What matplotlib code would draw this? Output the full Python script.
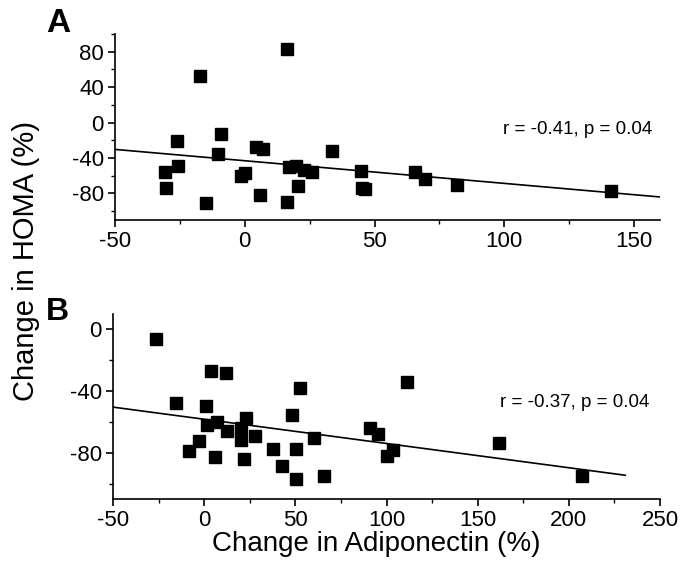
import numpy as np
import matplotlib.pyplot as plt
from matplotlib.ticker import MultipleLocator

plt.rcParams['font.family'] = ['Liberation Sans', 'DejaVu Sans']
plt.rcParams['axes.unicode_minus'] = False

# Panel A: change in adiponectin vs change in HOMA
adipo_a = [-30.9, -30.5, -26.0, -25.8, -17.4, -15.1, -9.2, -10.5, -1.5, 0.1,
           4.3, 7.2, 5.7, 16.4, 16.4, 17.0, 19.8, 20.6, 23.0, 26.0,
           33.5, 44.8, 45.1, 46.4, 65.5, 69.3, 81.7, 141.1]
homa_a = [-55.6, -73.8, -20.9, -48.5, 52.2, -90.5, -13.3, -36.0, -60.6, -56.8,
          -27.3, -30.3, -82.2, 83.5, -89.7, -50.4, -49.3, -72.0, -53.8, -56.0,
          -32.2, -55.2, -74.0, -74.6, -55.6, -63.2, -70.0, -77.6]
line_a_x = [-50, 160]
line_a_y = [-30.3, -84.0]

# Panel B
adipo_b = [-26.6, -15.7, 3.7, 11.9, 0.8, 1.3, 7.1, 12.6, -2.7, -8.2,
           5.9, 23.2, 20.4, 20.1, 21.9, 27.8, 37.5, 42.8, 48.3, 50.6,
           50.6, 52.8, 60.0, 65.8, 91.2, 95.1, 100.4, 103.3, 111.5, 161.6, 207.1]
homa_b = [-6.0, -47.8, -27.0, -28.1, -49.4, -61.7, -59.8, -65.6, -72.5, -79.0,
          -82.5, -57.4, -63.9, -71.9, -83.8, -69.3, -77.3, -88.3, -55.4, -77.3,
          -97.0, -38.2, -70.5, -95.4, -63.9, -67.6, -82.3, -78.4, -34.0, -73.6, -95.3]
line_b_x = [-50, 231]
line_b_y = [-50.4, -94.6]

fig = plt.figure(figsize=(6.8, 5.73), dpi=100)
ax_a = fig.add_axes([115/680, 1 - 220/573, 545/680, 186/573])
ax_b = fig.add_axes([113/680, 1 - 499/573, 547/680, 185/573])


def style(ax):
    for s in ['top', 'right']:
        ax.spines[s].set_visible(False)
    for s in ['left', 'bottom']:
        ax.spines[s].set_linewidth(1.2)
    ax.tick_params(which='major', direction='out', length=5, width=1.2, labelsize=16, pad=3)
    ax.tick_params(which='minor', direction='out', length=3, width=1.0)


ax_a.plot(adipo_a, homa_a, 's', color='black', markersize=9)
ax_a.plot(line_a_x, line_a_y, color='black', linewidth=1.2)
ax_a.set_xlim(-50, 160)
ax_a.set_ylim(-110, 100)
ax_a.xaxis.set_major_locator(MultipleLocator(50))
ax_a.xaxis.set_minor_locator(MultipleLocator(25))
ax_a.set_yticks([-80, -40, 0, 40, 80])
ax_a.yaxis.set_minor_locator(MultipleLocator(20))
ax_a.text(157, -7.5, 'r = -0.41, p = 0.04', ha='right', va='center', fontsize=13.5)
style(ax_a)

ax_b.plot(adipo_b, homa_b, 's', color='black', markersize=9)
ax_b.plot(line_b_x, line_b_y, color='black', linewidth=1.2)
ax_b.set_xlim(-50, 250)
ax_b.set_ylim(-110, 10)
ax_b.xaxis.set_major_locator(MultipleLocator(50))
ax_b.xaxis.set_minor_locator(MultipleLocator(25))
ax_b.set_yticks([-80, -40, 0])
ax_b.yaxis.set_minor_locator(MultipleLocator(20))
ax_b.text(244, -47.3, 'r = -0.37, p = 0.04', ha='right', va='center', fontsize=13.5)
style(ax_b)

fig.text(58/680, 1 - 24/573, 'A', fontsize=24, fontweight='bold', ha='center', va='center')
fig.text(57/680, 1 - 312/573, 'B', fontsize=23, fontweight='bold', ha='center', va='center')
fig.text(26/680, 1 - 261/573, 'Change in HOMA (%)', fontsize=21, rotation=90,
         ha='center', va='center')
fig.text(376/680, 1 - 544/573, 'Change in Adiponectin (%)', fontsize=20,
         ha='center', va='center')

fig.savefig('out.png', dpi=100)
